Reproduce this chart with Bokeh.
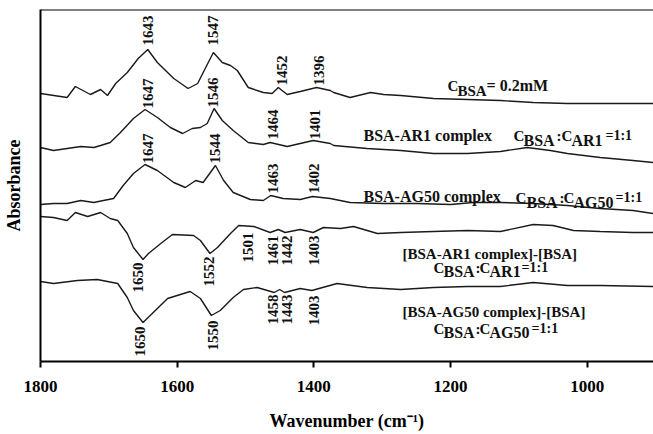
from bokeh.plotting import figure
from bokeh.models import Range1d, FixedTicker, Span, ColumnDataSource
from bokeh.core.properties import value, field
from bokeh.embed import file_html
from bokeh.resources import INLINE

# ---- data (wavenumber, cm^-1 ; absorbance in arbitrary stacked units) ----
w_bsa = [1800,1761,1749,1727,1712,1702,1690,1673,1657,1643,1629,1605,1584,1570,1559,1547,1534,1522,1512,1496,
         1474,1461,1452,1439,1420,1396,1376,1371,1347,1317,1298,1273,1225,1175,1127,1079,1029,981,903]
a_bsa = [268,264,275,267,272,266,278,289,303,312,299,283,273,278,293,309,299,296,291,274,
         269,268,274,267,270,274,271,269,264,269,267,266,263,262,261,259,258,258,258]

w_ar1 = [1800,1781,1761,1741,1722,1712,1698,1683,1664,1647,1629,1610,1592,1578,1566,1556,1546,1534,1518,1496,
         1474,1464,1439,1420,1401,1376,1371,1322,1273,1225,1175,1127,1088,1054,1029,981,933,903]
a_ar1 = [214,211,213,215,214,216,219,229,243,252,244,234,228,233,234,238,253,241,231,219,
         217,219,215,218,221,218,216,213,211,208,208,210,214,211,208,204,201,199]

w_ag50 = [1800,1781,1761,1741,1722,1708,1693,1679,1664,1647,1629,1605,1588,1573,1562,1544,1532,1518,1493,1474,
          1463,1445,1420,1402,1376,1347,1298,1249,1200,1167,1127,1079,1029,981,933,903]
a_ag50 = [157,158,158,161,159,161,163,176,188,197,191,179,174,181,179,196,181,169,162,161,
          166,163,162,165,163,159,158,158,157,159,159,158,156,153,151,148]

w_dar1 = [1800,1781,1761,1749,1731,1712,1698,1687,1673,1664,1650,1642,1624,1607,1576,1566,1552,1541,1522,1510,
          1488,1464,1452,1442,1420,1401,1386,1361,1342,1307,1273,1225,1175,1127,1079,1050,1020,981,933,903]
a_dar1 = [145,144,141,149,145,149,143,141,128,114,102,108,118,127,126,121,108,114,128,136,
          135,129,132,129,132,129,134,133,135,128,129,130,131,130,137,136,131,130,129,129]

w_dag50 = [1800,1781,1746,1717,1687,1673,1664,1650,1635,1614,1600,1581,1566,1550,1537,1518,1503,1483,1458,1450,
           1443,1420,1403,1366,1322,1273,1225,1175,1127,1079,1029,981,903]
a_dag50 = [80,78,81,82,78,64,51,39,49,63,66,70,63,46,51,64,72,74,69,72,
           69,73,71,78,74,72,74,75,75,79,76,76,75]

x_ticks = [1800, 1600, 1400, 1200, 1000]

# peak labels
peak_text = ["1643","1547","1452","1396",
             "1647","1546","1464","1401",
             "1647","1544","1463","1402",
             "1650","1552","1501","1461","1442","1403",
             "1650","1550","1458","1443","1403"]
peak_x = [1642,1547,1446,1393,
          1643,1547,1460,1398,
          1643,1544,1460,1400,
          1657,1554,1497,1460,1439,1400,
          1654,1548,1460,1439,1400]
peak_y = [331,331,291,291,
          268,269,237,237,
          213,213,183,183,
          84,90,114,111,111,111,
          20,26,52,52,51]

FONT = value("Liberation Serif")

p = figure(width=653, height=434, x_range=Range1d(1800, 903), y_range=Range1d(0, 352),
           output_backend="svg", toolbar_location=None,
           min_border_left=40, min_border_right=0, min_border_top=9, min_border_bottom=73)
p.outline_line_color = None
p.grid.visible = False
p.background_fill_color = "white"
p.border_fill_color = "white"

for wx, ay in [(w_bsa, a_bsa), (w_ar1, a_ar1), (w_ag50, a_ag50), (w_dar1, a_dar1), (w_dag50, a_dag50)]:
    p.line(wx, ay, line_color="#1a1a1a", line_width=1.4)

# x axis
xa = p.xaxis[0]
xa.ticker = FixedTicker(ticks=x_ticks, minor_ticks=[])
xa.axis_line_width = 2
xa.axis_line_color = "black"
xa.major_tick_line_width = 2
xa.major_tick_out = 6
xa.major_tick_in = 0
xa.minor_tick_line_color = None
xa.major_label_text_font = "Liberation Serif"
xa.major_label_text_font_style = "bold"
xa.major_label_text_font_size = "17px"
xa.major_label_text_color = "black"
xa.major_label_standoff = 13
xa.axis_label = "Wavenumber (cm\u207b\u00b9)"
xa.axis_label_text_font = "Liberation Serif"
xa.axis_label_text_font_style = "bold"
xa.axis_label_text_font_size = "18px"
xa.axis_label_text_color = "black"
xa.axis_label_standoff = 16

ya = p.yaxis[0]
ya.ticker = FixedTicker(ticks=[], minor_ticks=[])
ya.axis_line_width = 2
ya.axis_line_color = "black"
ya.major_tick_line_color = None
ya.minor_tick_line_color = None
ya.major_label_text_font_size = "0px"
ya.axis_label = "Absorbance"
ya.axis_label_text_font = "Liberation Serif"
ya.axis_label_text_font_style = "bold"
ya.axis_label_text_font_size = "18px"
ya.axis_label_text_color = "black"
ya.axis_label_standoff = 17

p.add_layout(Span(location=352, dimension="width", line_color="black", line_width=2))

# peak labels (rotated)
p.text(x=peak_x, y=peak_y, text=peak_text, angle=1.5708, text_align="center",
       text_baseline="middle", text_font=FONT, text_font_style="bold",
       text_font_size="15px", text_color="#111111")

# composite labels with subscripts: anchor (data) + pieces (text, dx px, dy, size)
labels = [
    ((1204.4, 276), [("C", 0, 0, 15), ("BSA", 10, -5, 15), ("= 0.2mM", 39, 0, 16)]),
    ((1327.4, 226), [("BSA-AR1 complex", 0, 0, 16)]),
    ((1107.9, 226), [("C", 0, 0, 15), ("BSA", 10, -5, 16), (":", 43, 0, 15), ("C", 48, 0, 15),
                     ("AR1", 58, -5, 16), ("=1:1", 92, 0, 14)]),
    ((1327.4, 165), [("BSA-AG50 complex", 0, 0, 16)]),
    ((1104.9, 164), [("C", 0, 0, 15), ("BSA", 11, -5, 16), (":", 44, 0, 15), ("C", 48, 0, 15),
                     ("AG50", 58, -5, 16), ("=1:1", 100, 0, 14)]),
    ((1270.3, 108), [("[BSA-AR1 complex]-[BSA]", 0, 0, 15)]),
    ((1224.9, 94), [("C", 0, 0, 15), ("BSA", 10, -4, 16), (":", 42, 0, 15), ("C", 46, 0, 15),
                    ("AR1", 56, -4, 16), ("=1:1", 88, 0, 14)]),
    ((1270.3, 50), [("[BSA-AG50 complex]-[BSA]", 0, 0, 15)]),
    ((1224.9, 33), [("C", 0, 0, 15), ("BSA", 10, -4, 16), (":", 42, 0, 15), ("C", 46, 0, 15),
                    ("AG50", 56, -4, 16), ("=1:1", 98, 0, 14)]),
]
cols = dict(x=[], y=[], text=[], xo=[], size=[])
for (ax, ay), pieces in labels:
    for t, dx, dy, sz in pieces:
        cols["x"].append(ax)
        cols["y"].append(ay + dy)
        cols["text"].append(t)
        cols["xo"].append(dx)
        cols["size"].append(f"{sz}px")
src = ColumnDataSource(cols)
p.text(x="x", y="y", text="text", x_offset="xo", source=src, text_align="left",
       text_baseline="alphabetic", text_font=FONT, text_font_style="bold",
       text_font_size=field("size"), text_color="#111111")

open("out.html", "w").write(file_html(p, INLINE))
